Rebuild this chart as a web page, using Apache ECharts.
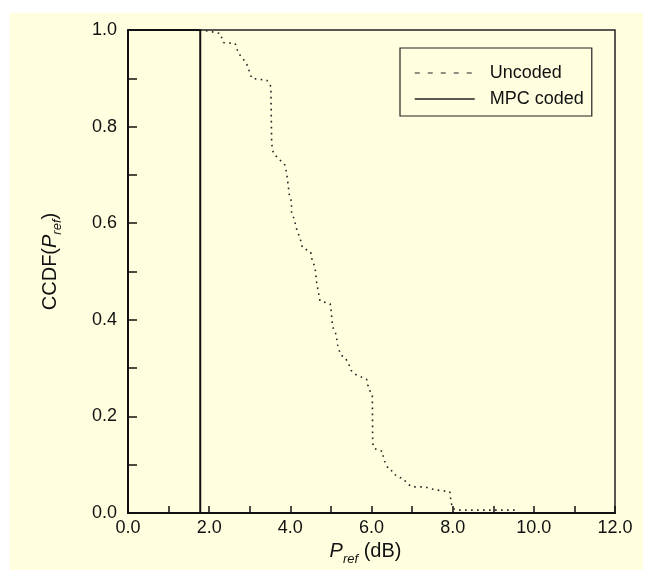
<!DOCTYPE html>
<html>
<head>
<meta charset="utf-8">
<script src="https://cdn.jsdelivr.net/npm/echarts@6/dist/echarts.min.js"></script>
<style>
    body { margin: 0; background: #fff; }
    #wrap { position: relative; width: 650px; height: 574px; }
    #paper { position: absolute; left: 10px; top: 13px; width: 633px; height: 557px; background: #ffffe0; }
    #main { position: absolute; left: 0; top: 0; width: 650px; height: 574px; }
</style>
</head>
<body>
<div id="wrap">
    <div id="paper"></div>
    <div id="main"></div>
</div>
<script>
// Uncoded CCDF curve
var uncodedX = [0, 1.83, 2.27, 2.35, 2.64, 2.72, 2.92, 3.05, 3.42, 3.52, 3.54, 3.58, 3.87, 3.91, 3.93, 3.98,
    4.03, 4.03, 4.09, 4.16, 4.24, 4.30, 4.50, 4.53, 4.61, 4.65, 4.71, 4.73, 4.98, 5.00, 5.04, 5.13, 5.17,
    5.24, 5.35, 5.45, 5.50, 5.62, 5.88, 5.91, 5.96, 6.02, 6.03, 6.06, 6.28, 6.29, 6.33, 6.43, 6.54, 6.60,
    6.80, 6.87, 7.01, 7.32, 7.44, 7.57, 7.93, 7.95, 7.99, 8.10, 9.54];
var uncodedY = [1.0, 1.0, 0.993, 0.974, 0.972, 0.952, 0.931, 0.900, 0.896, 0.883, 0.765, 0.745, 0.720, 0.703, 0.690, 0.655,
    0.645, 0.620, 0.610, 0.586, 0.569, 0.549, 0.541, 0.527, 0.507, 0.476, 0.449, 0.439, 0.433, 0.424, 0.386, 0.369, 0.346,
    0.327, 0.322, 0.306, 0.295, 0.286, 0.277, 0.265, 0.253, 0.246, 0.144, 0.134, 0.127, 0.115, 0.106, 0.089, 0.086, 0.077,
    0.070, 0.061, 0.054, 0.054, 0.051, 0.048, 0.044, 0.030, 0.010, 0.006, 0.006];

// MPC coded: step at ~1.78 dB
var mpcX = [0, 1.78, 1.78, 12];
var mpcY = [1, 1, 0, 0];

var xTicks = { min: 0, max: 12, step: 2 };
var yTicks = { min: 0, max: 1, step: 0.2 };

function pairs(xs, ys) {
    var res = [];
    for (var i = 0; i < xs.length; i++) res.push([xs[i], ys[i]]);
    return res;
}

var font = 'Liberation Sans, Arial, sans-serif';
var nameRich = {
    i: { fontFamily: font, fontSize: 20, fontStyle: 'italic', color: '#111', verticalAlign: 'bottom' },
    s: { fontFamily: font, fontSize: 13, fontStyle: 'italic', color: '#111', verticalAlign: 'bottom', padding: [0, 0, -4, 0] },
    n: { fontFamily: font, fontSize: 20, color: '#111', verticalAlign: 'bottom' }
};

var myChart = echarts.init(document.getElementById('main'));
var option = {
    backgroundColor: 'transparent',
    color: ['#222', '#111'],
    textStyle: { fontFamily: font, color: '#111' },
    grid: {
        left: 128, right: 35, top: 30, bottom: 61,
        show: true, borderColor: '#222', borderWidth: 1.5, backgroundColor: 'transparent'
    },
    legend: {
        orient: 'vertical',
        left: 400, top: 48,
        padding: [16, 8, 8, 14],
        itemGap: 8,
        itemWidth: 60, itemHeight: 14,
        borderColor: '#222', borderWidth: 1.2,
        backgroundColor: '#ffffe0',
        textStyle: { fontFamily: font, fontSize: 18, color: '#111', padding: [0, 0, 0, 10] },
        data: [
            { name: 'Uncoded', itemStyle: { opacity: 0 }, lineStyle: { type: [5, 8], width: 1.2, color: '#222' } },
            { name: 'MPC coded', itemStyle: { opacity: 0 }, lineStyle: { type: 'solid', width: 1.5, color: '#222' } }
        ]
    },
    xAxis: {
        type: 'value',
        min: xTicks.min, max: xTicks.max, interval: xTicks.step,
        name: '{i|P}{s|ref}{n| (dB)}',
        nameLocation: 'middle', nameGap: 25,
        nameTextStyle: { fontSize: 20, padding: [0, 12, 0, 0], rich: nameRich },
        axisLine: { lineStyle: { color: '#111', width: 2 } },
        axisTick: { inside: true, length: 7, lineStyle: { color: '#111', width: 1.5 } },
        minorTick: { show: true, splitNumber: 2, length: 7, lineStyle: { color: '#111', width: 1.5 } },
        splitLine: { show: false },
        axisLabel: {
            margin: 6, fontSize: 18, color: '#111', fontFamily: font,
            formatter: function (v) { return v.toFixed(1); }
        }
    },
    yAxis: {
        type: 'value',
        min: yTicks.min, max: yTicks.max, interval: yTicks.step,
        name: '{n|CCDF(}{i|P}{s|ref}{n|)}',
        nameLocation: 'middle', nameGap: 68,
        nameTextStyle: { fontSize: 20, padding: [0, 0, 0, 20], rich: nameRich },
        axisLine: { lineStyle: { color: '#111', width: 2 } },
        axisTick: { inside: true, length: 9, lineStyle: { color: '#111', width: 1.5 } },
        minorTick: { show: true, splitNumber: 2, length: 9, lineStyle: { color: '#111', width: 1.5 } },
        splitLine: { show: false },
        axisLabel: {
            margin: 11, fontSize: 18, color: '#111', fontFamily: font,
            formatter: function (v) { return v.toFixed(1); }
        }
    },
    series: [
        {
            name: 'Uncoded',
            type: 'line',
            showSymbol: false,
            symbol: 'none',
            silent: true,
            itemStyle: { color: '#222' },
            lineStyle: { color: '#222', width: 1.6, type: [1.6, 4.4] },
            data: pairs(uncodedX, uncodedY)
        },
        {
            name: 'MPC coded',
            type: 'line',
            showSymbol: false,
            symbol: 'none',
            silent: true,
            itemStyle: { color: '#111' },
            lineStyle: { color: '#111', width: 2, type: 'solid' },
            data: pairs(mpcX, mpcY)
        }
    ]
};
myChart.setOption(option);
</script>
</body>
</html>
